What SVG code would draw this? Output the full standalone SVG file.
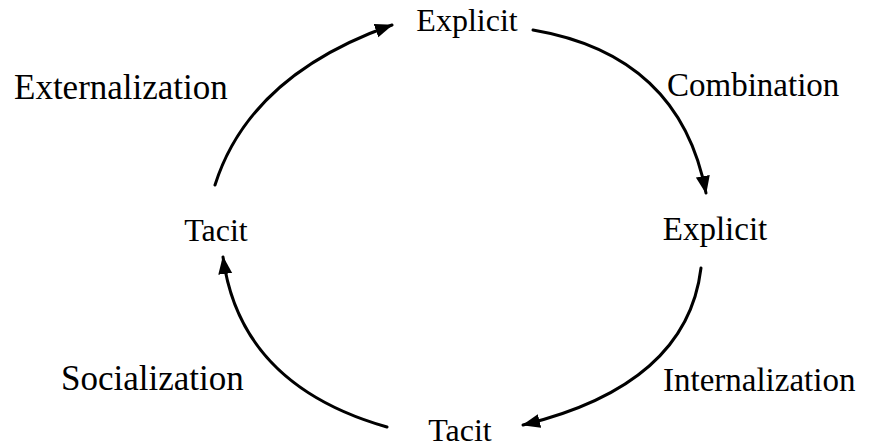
<svg xmlns="http://www.w3.org/2000/svg" width="875" height="448" viewBox="0 0 875 448">
<style>
text{font-family:"Liberation Serif","Times New Roman",serif;font-size:32px;fill:#000;text-anchor:middle}
.lab{text-anchor:start}
.big{font-size:35px}
.mid{font-size:33px}
.c{fill:none;stroke:#000;stroke-width:3;stroke-linecap:round}
</style>
<defs>
<marker id="ah" markerUnits="userSpaceOnUse" markerWidth="19" markerHeight="15" refX="17" refY="7" orient="auto" viewBox="0 0 19 14">
<path d="M0,0 L18,7 L0,14 Z" fill="#000"/>
</marker>
</defs>
<rect width="875" height="448" fill="#fff"/>
<g id="connectors">
<path id="ext" class="c" d="M215,185 Q250,75 392,25" marker-end="url(#ah)"/>
<path id="comb" class="c" d="M533,30 Q680,55 706,193" marker-end="url(#ah)"/>
<path id="int" class="c" d="M701,268 Q687,385 523,425" marker-end="url(#ah)"/>
<path id="soc" class="c" d="M387,427 Q240,385 223,257" marker-end="url(#ah)"/>
</g>
<g id="explicit-top"><text x="467" y="31">Explicit</text></g>
<g id="explicit-right"><text class="mid" x="715" y="240">Explicit</text></g>
<g id="tacit-left"><text x="216" y="241">Tacit</text></g>
<g id="tacit-bottom"><text x="460" y="441">Tacit</text></g>
<g id="externalization"><text class="lab big" x="14" y="99">Externalization</text></g>
<g id="combination"><text class="lab mid" x="667" y="96">Combination</text></g>
<g id="socialization"><text class="lab big" x="61" y="390">Socialization</text></g>
<g id="internalization"><text class="lab mid" x="663" y="391">Internalization</text></g>
</svg>
